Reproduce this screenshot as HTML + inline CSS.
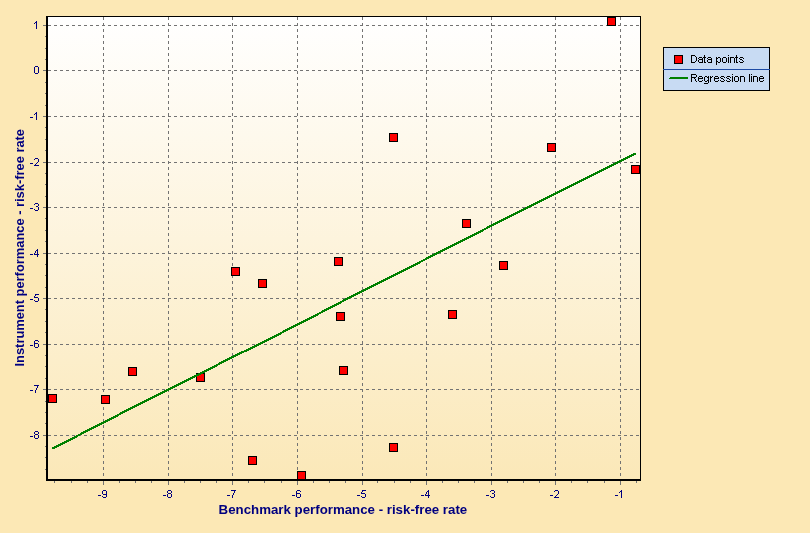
<!DOCTYPE html>
<html><head><meta charset="utf-8"><style>
html,body{margin:0;padding:0;width:810px;height:533px;overflow:hidden;background:#FCE8B5;}
svg{display:block}
.ov{position:absolute;left:0;top:0;will-change:transform}
text{font-family:"Liberation Sans",sans-serif;}
.tl{font-size:11px;fill:#000080;}
.at{font-size:13.5px;font-weight:bold;fill:#000080;}
.lg{font-size:10.7px;fill:#000;}
</style></head><body>
<svg width="810" height="533" viewBox="0 0 810 533">
<defs><linearGradient id="pg" x1="0" y1="0" x2="0" y2="1"><stop offset="0" stop-color="#FFFFFF"/><stop offset="1" stop-color="#FBE8B8"/></linearGradient></defs>
<rect width="810" height="533" fill="#FCE8B5"/>
<rect x="46" y="16" width="594" height="464" fill="url(#pg)"/>
<line x1="103.5" y1="17" x2="103.5" y2="479" stroke="#737373" stroke-width="1" stroke-dasharray="3 3"/>
<line x1="168.5" y1="17" x2="168.5" y2="479" stroke="#737373" stroke-width="1" stroke-dasharray="3 3"/>
<line x1="232.5" y1="17" x2="232.5" y2="479" stroke="#737373" stroke-width="1" stroke-dasharray="3 3"/>
<line x1="297.5" y1="17" x2="297.5" y2="479" stroke="#737373" stroke-width="1" stroke-dasharray="3 3"/>
<line x1="362.5" y1="17" x2="362.5" y2="479" stroke="#737373" stroke-width="1" stroke-dasharray="3 3"/>
<line x1="426.5" y1="17" x2="426.5" y2="479" stroke="#737373" stroke-width="1" stroke-dasharray="3 3"/>
<line x1="491.5" y1="17" x2="491.5" y2="479" stroke="#737373" stroke-width="1" stroke-dasharray="3 3"/>
<line x1="555.5" y1="17" x2="555.5" y2="479" stroke="#737373" stroke-width="1" stroke-dasharray="3 3"/>
<line x1="620.5" y1="17" x2="620.5" y2="479" stroke="#737373" stroke-width="1" stroke-dasharray="3 3"/>
<line x1="48" y1="25.5" x2="640" y2="25.5" stroke="#737373" stroke-width="1" stroke-dasharray="3 3"/>
<line x1="48" y1="70.5" x2="640" y2="70.5" stroke="#737373" stroke-width="1" stroke-dasharray="3 3"/>
<line x1="48" y1="116.5" x2="640" y2="116.5" stroke="#737373" stroke-width="1" stroke-dasharray="3 3"/>
<line x1="48" y1="162.5" x2="640" y2="162.5" stroke="#737373" stroke-width="1" stroke-dasharray="3 3"/>
<line x1="48" y1="207.5" x2="640" y2="207.5" stroke="#737373" stroke-width="1" stroke-dasharray="3 3"/>
<line x1="48" y1="253.5" x2="640" y2="253.5" stroke="#737373" stroke-width="1" stroke-dasharray="3 3"/>
<line x1="48" y1="298.5" x2="640" y2="298.5" stroke="#737373" stroke-width="1" stroke-dasharray="3 3"/>
<line x1="48" y1="344.5" x2="640" y2="344.5" stroke="#737373" stroke-width="1" stroke-dasharray="3 3"/>
<line x1="48" y1="389.5" x2="640" y2="389.5" stroke="#737373" stroke-width="1" stroke-dasharray="3 3"/>
<line x1="48" y1="435.5" x2="640" y2="435.5" stroke="#737373" stroke-width="1" stroke-dasharray="3 3"/>
<rect x="48.5" y="394.5" width="8" height="8" fill="#FF0000" stroke="#000" stroke-width="1"/>
<rect x="101.5" y="395.5" width="8" height="8" fill="#FF0000" stroke="#000" stroke-width="1"/>
<rect x="128.5" y="367.5" width="8" height="8" fill="#FF0000" stroke="#000" stroke-width="1"/>
<rect x="196.5" y="373.5" width="8" height="8" fill="#FF0000" stroke="#000" stroke-width="1"/>
<rect x="231.5" y="267.5" width="8" height="8" fill="#FF0000" stroke="#000" stroke-width="1"/>
<rect x="248.5" y="456.5" width="8" height="8" fill="#FF0000" stroke="#000" stroke-width="1"/>
<rect x="258.5" y="279.5" width="8" height="8" fill="#FF0000" stroke="#000" stroke-width="1"/>
<rect x="297.5" y="471.5" width="8" height="8" fill="#FF0000" stroke="#000" stroke-width="1"/>
<rect x="334.5" y="257.5" width="8" height="8" fill="#FF0000" stroke="#000" stroke-width="1"/>
<rect x="336.5" y="312.5" width="8" height="8" fill="#FF0000" stroke="#000" stroke-width="1"/>
<rect x="339.5" y="366.5" width="8" height="8" fill="#FF0000" stroke="#000" stroke-width="1"/>
<rect x="389.5" y="133.5" width="8" height="8" fill="#FF0000" stroke="#000" stroke-width="1"/>
<rect x="389.5" y="443.5" width="8" height="8" fill="#FF0000" stroke="#000" stroke-width="1"/>
<rect x="448.5" y="310.5" width="8" height="8" fill="#FF0000" stroke="#000" stroke-width="1"/>
<rect x="462.5" y="219.5" width="8" height="8" fill="#FF0000" stroke="#000" stroke-width="1"/>
<rect x="499.5" y="261.5" width="8" height="8" fill="#FF0000" stroke="#000" stroke-width="1"/>
<rect x="547.5" y="143.5" width="8" height="8" fill="#FF0000" stroke="#000" stroke-width="1"/>
<rect x="607.5" y="17.5" width="8" height="8" fill="#FF0000" stroke="#000" stroke-width="1"/>
<rect x="631.5" y="165.5" width="8" height="8" fill="#FF0000" stroke="#000" stroke-width="1"/>
<path d="M52 447h2v2h-2zM54 446h1v3h-1zM55 446h1v2h-1zM56 445h1v3h-1zM57 445h1v2h-1zM58 444h1v3h-1zM59 444h1v2h-1zM60 443h1v3h-1zM61 443h1v2h-1zM62 442h1v3h-1zM63 442h1v2h-1zM64 441h1v3h-1zM65 441h1v2h-1zM66 440h1v3h-1zM67 440h1v2h-1zM68 439h1v3h-1zM69 439h1v2h-1zM70 438h1v3h-1zM71 438h1v2h-1zM72 437h1v3h-1zM73 437h1v2h-1zM74 436h1v3h-1zM75 436h1v2h-1zM76 435h1v3h-1zM77 435h1v2h-1zM78 434h2v2h-2zM80 433h1v2h-1zM81 432h1v3h-1zM82 432h1v2h-1zM83 431h1v3h-1zM84 431h1v2h-1zM85 430h1v3h-1zM86 430h1v2h-1zM87 429h1v3h-1zM88 429h1v2h-1zM89 428h1v3h-1zM90 428h1v2h-1zM91 427h1v3h-1zM92 427h1v2h-1zM93 426h1v3h-1zM94 426h1v2h-1zM95 425h1v3h-1zM96 425h1v2h-1zM97 424h1v3h-1zM98 424h1v2h-1zM99 423h1v3h-1zM100 423h1v2h-1zM101 422h1v3h-1zM102 422h1v2h-1zM103 421h1v3h-1zM104 421h1v2h-1zM105 420h1v3h-1zM106 420h1v2h-1zM107 419h1v3h-1zM108 419h1v2h-1zM109 418h1v3h-1zM110 418h1v2h-1zM111 417h1v3h-1zM112 417h1v2h-1zM113 416h1v3h-1zM114 416h1v2h-1zM115 415h1v3h-1zM116 415h1v2h-1zM117 414h1v3h-1zM118 414h1v2h-1zM119 413h1v2h-1zM120 412h1v3h-1zM121 412h1v2h-1zM122 411h1v3h-1zM123 411h1v2h-1zM124 410h1v3h-1zM125 410h1v2h-1zM126 409h1v3h-1zM127 409h1v2h-1zM128 408h1v3h-1zM129 408h1v2h-1zM130 407h1v3h-1zM131 407h1v2h-1zM132 406h1v3h-1zM133 406h1v2h-1zM134 405h1v3h-1zM135 405h1v2h-1zM136 404h1v3h-1zM137 404h1v2h-1zM138 403h1v3h-1zM139 403h1v2h-1zM140 402h1v3h-1zM141 402h1v2h-1zM142 401h1v3h-1zM143 401h1v2h-1zM144 400h1v3h-1zM145 400h1v2h-1zM146 399h1v3h-1zM147 399h1v2h-1zM148 398h1v3h-1zM149 398h1v2h-1zM150 397h1v3h-1zM151 397h1v2h-1zM152 396h1v3h-1zM153 396h1v2h-1zM154 395h1v3h-1zM155 395h1v2h-1zM156 394h1v3h-1zM157 394h1v2h-1zM158 393h1v3h-1zM159 393h1v2h-1zM160 392h1v3h-1zM161 392h1v2h-1zM162 391h1v3h-1zM163 391h1v2h-1zM164 390h1v3h-1zM165 390h1v2h-1zM166 389h1v3h-1zM167 389h1v2h-1zM168 388h1v3h-1zM169 388h1v2h-1zM170 387h1v3h-1zM171 387h1v2h-1zM172 386h1v3h-1zM173 386h1v2h-1zM174 385h1v3h-1zM175 385h1v2h-1zM176 384h1v3h-1zM177 384h1v2h-1zM178 383h1v3h-1zM179 383h1v2h-1zM180 382h1v3h-1zM181 382h1v2h-1zM182 381h1v3h-1zM183 381h1v2h-1zM184 380h1v3h-1zM185 380h1v2h-1zM186 379h1v3h-1zM187 379h1v2h-1zM188 378h1v3h-1zM189 378h1v2h-1zM190 377h1v3h-1zM191 377h1v2h-1zM192 376h1v3h-1zM193 376h1v2h-1zM194 375h1v3h-1zM195 375h1v2h-1zM196 374h1v3h-1zM197 374h1v2h-1zM198 373h1v3h-1zM199 373h1v2h-1zM200 372h1v3h-1zM201 372h1v2h-1zM202 371h1v3h-1zM203 371h1v2h-1zM204 370h1v3h-1zM205 370h1v2h-1zM206 369h1v3h-1zM207 369h1v2h-1zM208 368h1v3h-1zM209 368h1v2h-1zM210 367h1v3h-1zM211 367h1v2h-1zM212 366h1v3h-1zM213 366h1v2h-1zM214 365h1v3h-1zM215 365h1v2h-1zM216 364h1v3h-1zM217 364h1v2h-1zM218 363h1v2h-1zM219 362h1v3h-1zM220 362h1v2h-1zM221 361h1v3h-1zM222 361h1v2h-1zM223 360h1v3h-1zM224 360h1v2h-1zM225 359h1v3h-1zM226 359h1v2h-1zM227 358h1v3h-1zM228 358h1v2h-1zM229 357h1v3h-1zM230 357h1v2h-1zM231 356h1v3h-1zM232 356h1v2h-1zM233 355h1v3h-1zM234 355h1v2h-1zM235 354h1v3h-1zM236 354h1v2h-1zM237 353h1v3h-1zM238 353h1v2h-1zM239 352h1v3h-1zM240 352h1v2h-1zM241 351h1v3h-1zM242 351h2v2h-2zM244 350h2v2h-2zM246 349h1v3h-1zM247 349h1v2h-1zM248 348h1v3h-1zM249 348h1v2h-1zM250 347h1v3h-1zM251 347h1v2h-1zM252 346h1v3h-1zM253 346h1v2h-1zM254 345h1v3h-1zM255 345h1v2h-1zM256 344h1v3h-1zM257 344h1v2h-1zM258 343h1v3h-1zM259 343h1v2h-1zM260 342h1v3h-1zM261 342h1v2h-1zM262 341h1v3h-1zM263 341h1v2h-1zM264 340h1v3h-1zM265 340h1v2h-1zM266 339h1v3h-1zM267 339h1v2h-1zM268 338h1v3h-1zM269 338h1v2h-1zM270 337h1v3h-1zM271 337h1v2h-1zM272 336h1v3h-1zM273 336h1v2h-1zM274 335h1v3h-1zM275 335h1v2h-1zM276 334h1v3h-1zM277 334h1v2h-1zM278 333h1v3h-1zM279 333h1v2h-1zM280 332h1v3h-1zM281 332h1v2h-1zM282 331h1v2h-1zM283 330h1v3h-1zM284 330h1v2h-1zM285 329h1v3h-1zM286 329h1v2h-1zM287 328h1v3h-1zM288 328h1v2h-1zM289 327h1v3h-1zM290 327h1v2h-1zM291 326h1v3h-1zM292 326h1v2h-1zM293 325h1v3h-1zM294 325h1v2h-1zM295 324h1v3h-1zM296 324h1v2h-1zM297 323h1v3h-1zM298 323h1v2h-1zM299 322h1v3h-1zM300 322h1v2h-1zM301 321h1v3h-1zM302 321h1v2h-1zM303 320h1v3h-1zM304 320h1v2h-1zM305 319h1v3h-1zM306 319h1v2h-1zM307 318h1v3h-1zM308 318h1v2h-1zM309 317h1v3h-1zM310 317h1v2h-1zM311 316h1v3h-1zM312 316h1v2h-1zM313 315h1v3h-1zM314 315h1v2h-1zM315 314h1v3h-1zM316 314h1v2h-1zM317 313h1v3h-1zM318 313h1v2h-1zM319 312h2v2h-2zM321 311h1v2h-1zM322 310h1v3h-1zM323 310h1v2h-1zM324 309h1v3h-1zM325 309h1v2h-1zM326 308h1v3h-1zM327 308h1v2h-1zM328 307h1v3h-1zM329 307h1v2h-1zM330 306h1v3h-1zM331 306h1v2h-1zM332 305h1v3h-1zM333 305h1v2h-1zM334 304h1v3h-1zM335 304h1v2h-1zM336 303h1v3h-1zM337 303h1v2h-1zM338 302h1v3h-1zM339 302h1v2h-1zM340 301h1v3h-1zM341 301h1v2h-1zM342 300h1v2h-1zM343 299h1v3h-1zM344 299h1v2h-1zM345 298h1v3h-1zM346 298h1v2h-1zM347 297h1v3h-1zM348 297h1v2h-1zM349 296h1v3h-1zM350 296h1v2h-1zM351 295h1v3h-1zM352 295h1v2h-1zM353 294h1v3h-1zM354 294h1v2h-1zM355 293h1v3h-1zM356 293h1v2h-1zM357 292h1v3h-1zM358 292h1v2h-1zM359 291h1v3h-1zM360 291h1v2h-1zM361 290h1v3h-1zM362 290h1v2h-1zM363 289h1v3h-1zM364 289h1v2h-1zM365 288h1v3h-1zM366 288h1v2h-1zM367 287h1v3h-1zM368 287h1v2h-1zM369 286h1v3h-1zM370 286h1v2h-1zM371 285h1v3h-1zM372 285h1v2h-1zM373 284h1v3h-1zM374 284h1v2h-1zM375 283h1v3h-1zM376 283h1v2h-1zM377 282h1v3h-1zM378 282h1v2h-1zM379 281h1v3h-1zM380 281h1v2h-1zM381 280h1v3h-1zM382 280h1v2h-1zM383 279h1v3h-1zM384 279h1v2h-1zM385 278h1v3h-1zM386 278h1v2h-1zM387 277h1v3h-1zM388 277h1v2h-1zM389 276h1v3h-1zM390 276h1v2h-1zM391 275h1v3h-1zM392 275h1v2h-1zM393 274h1v3h-1zM394 274h1v2h-1zM395 273h1v3h-1zM396 273h1v2h-1zM397 272h1v3h-1zM398 272h1v2h-1zM399 271h1v3h-1zM400 271h1v2h-1zM401 270h1v3h-1zM402 270h1v2h-1zM403 269h1v3h-1zM404 269h1v2h-1zM405 268h1v3h-1zM406 268h1v2h-1zM407 267h1v3h-1zM408 267h1v2h-1zM409 266h1v3h-1zM410 266h1v2h-1zM411 265h1v3h-1zM412 265h1v2h-1zM413 264h1v3h-1zM414 264h1v2h-1zM415 263h1v3h-1zM416 263h1v2h-1zM417 262h1v3h-1zM418 262h1v2h-1zM419 261h1v3h-1zM420 261h1v2h-1zM421 260h2v2h-2zM423 259h2v2h-2zM425 258h1v2h-1zM426 257h1v3h-1zM427 257h1v2h-1zM428 256h1v3h-1zM429 256h1v2h-1zM430 255h1v3h-1zM431 255h1v2h-1zM432 254h1v3h-1zM433 254h1v2h-1zM434 253h1v3h-1zM435 253h1v2h-1zM436 252h1v3h-1zM437 252h1v2h-1zM438 251h1v3h-1zM439 251h1v2h-1zM440 250h1v3h-1zM441 250h1v2h-1zM442 249h1v3h-1zM443 249h1v2h-1zM444 248h1v3h-1zM445 248h1v2h-1zM446 247h1v3h-1zM447 247h1v2h-1zM448 246h1v3h-1zM449 246h1v2h-1zM450 245h1v3h-1zM451 245h1v2h-1zM452 244h1v3h-1zM453 244h1v2h-1zM454 243h1v3h-1zM455 243h1v2h-1zM456 242h1v3h-1zM457 242h1v2h-1zM458 241h1v3h-1zM459 241h1v2h-1zM460 240h1v3h-1zM461 240h1v2h-1zM462 239h1v3h-1zM463 239h1v2h-1zM464 238h1v3h-1zM465 238h1v2h-1zM466 237h1v3h-1zM467 237h1v2h-1zM468 236h1v3h-1zM469 236h1v2h-1zM470 235h1v3h-1zM471 235h1v2h-1zM472 234h1v3h-1zM473 234h1v2h-1zM474 233h1v3h-1zM475 233h1v2h-1zM476 232h1v3h-1zM477 232h1v2h-1zM478 231h1v3h-1zM479 231h1v2h-1zM480 230h1v3h-1zM481 230h1v2h-1zM482 229h1v3h-1zM483 229h1v2h-1zM484 228h2v2h-2zM486 227h1v2h-1zM487 226h1v3h-1zM488 226h1v2h-1zM489 225h1v3h-1zM490 225h1v2h-1zM491 224h1v3h-1zM492 224h1v2h-1zM493 223h1v3h-1zM494 223h1v2h-1zM495 222h1v3h-1zM496 222h1v2h-1zM497 221h1v3h-1zM498 221h1v2h-1zM499 220h1v3h-1zM500 220h1v2h-1zM501 219h1v3h-1zM502 219h1v2h-1zM503 218h1v3h-1zM504 218h1v2h-1zM505 217h1v3h-1zM506 217h1v2h-1zM507 216h1v3h-1zM508 216h1v2h-1zM509 215h1v3h-1zM510 215h1v2h-1zM511 214h1v3h-1zM512 214h1v2h-1zM513 213h1v3h-1zM514 213h1v2h-1zM515 212h1v3h-1zM516 212h1v2h-1zM517 211h1v3h-1zM518 211h1v2h-1zM519 210h1v3h-1zM520 210h1v2h-1zM521 209h1v3h-1zM522 209h1v2h-1zM523 208h1v3h-1zM524 208h1v2h-1zM525 207h1v3h-1zM526 207h1v2h-1zM527 206h1v3h-1zM528 206h1v2h-1zM529 205h1v3h-1zM530 205h1v2h-1zM531 204h1v3h-1zM532 204h1v2h-1zM533 203h1v3h-1zM534 203h1v2h-1zM535 202h1v3h-1zM536 202h1v2h-1zM537 201h1v3h-1zM538 201h1v2h-1zM539 200h1v3h-1zM540 200h1v2h-1zM541 199h1v3h-1zM542 199h1v2h-1zM543 198h1v3h-1zM544 198h1v2h-1zM545 197h1v3h-1zM546 197h1v2h-1zM547 196h1v3h-1zM548 196h1v2h-1zM549 195h1v3h-1zM550 195h1v2h-1zM551 194h1v3h-1zM552 194h1v2h-1zM553 193h1v3h-1zM554 193h1v2h-1zM555 192h1v3h-1zM556 192h1v2h-1zM557 191h1v3h-1zM558 191h1v2h-1zM559 190h1v3h-1zM560 190h1v2h-1zM561 189h1v3h-1zM562 189h1v2h-1zM563 188h1v3h-1zM564 188h1v2h-1zM565 187h1v3h-1zM566 187h1v2h-1zM567 186h1v3h-1zM568 186h1v2h-1zM569 185h1v3h-1zM570 185h1v2h-1zM571 184h1v3h-1zM572 184h1v2h-1zM573 183h1v3h-1zM574 183h1v2h-1zM575 182h1v3h-1zM576 182h1v2h-1zM577 181h1v3h-1zM578 181h1v2h-1zM579 180h1v3h-1zM580 180h1v2h-1zM581 179h1v3h-1zM582 179h1v2h-1zM583 178h1v3h-1zM584 178h1v2h-1zM585 177h1v3h-1zM586 177h1v2h-1zM587 176h1v3h-1zM588 176h1v2h-1zM589 175h1v3h-1zM590 175h1v2h-1zM591 174h1v3h-1zM592 174h1v2h-1zM593 173h1v3h-1zM594 173h1v2h-1zM595 172h1v3h-1zM596 172h1v2h-1zM597 171h1v3h-1zM598 171h1v2h-1zM599 170h1v3h-1zM600 170h1v2h-1zM601 169h1v3h-1zM602 169h1v2h-1zM603 168h1v3h-1zM604 168h1v2h-1zM605 167h1v3h-1zM606 167h1v2h-1zM607 166h1v3h-1zM608 166h1v2h-1zM609 165h1v3h-1zM610 165h1v2h-1zM611 164h1v3h-1zM612 164h1v2h-1zM613 163h1v3h-1zM614 163h1v2h-1zM615 162h1v3h-1zM616 162h1v2h-1zM617 161h1v3h-1zM618 161h1v2h-1zM619 160h1v3h-1zM620 160h1v2h-1zM621 159h1v3h-1zM622 159h1v2h-1zM623 158h1v3h-1zM624 158h1v2h-1zM625 157h1v3h-1zM626 157h1v2h-1zM627 156h1v3h-1zM628 156h1v2h-1zM629 155h1v3h-1zM630 155h1v2h-1zM631 154h1v3h-1zM632 154h1v2h-1zM633 153h1v3h-1zM634 153h2v2h-2z" fill="#008000" shape-rendering="crispEdges"/>
<rect x="46" y="16" width="595" height="1" fill="#000"/>
<rect x="640" y="16" width="1" height="465" fill="#000"/>
<rect x="46" y="16" width="2" height="465" fill="#000"/>
<rect x="46" y="479" width="595" height="2" fill="#000"/>
<rect x="43" y="25" width="3" height="1" fill="#737373"/>
<rect x="43" y="70" width="3" height="1" fill="#737373"/>
<rect x="43" y="116" width="3" height="1" fill="#737373"/>
<rect x="43" y="162" width="3" height="1" fill="#737373"/>
<rect x="43" y="207" width="3" height="1" fill="#737373"/>
<rect x="43" y="253" width="3" height="1" fill="#737373"/>
<rect x="43" y="298" width="3" height="1" fill="#737373"/>
<rect x="43" y="344" width="3" height="1" fill="#737373"/>
<rect x="43" y="389" width="3" height="1" fill="#737373"/>
<rect x="43" y="435" width="3" height="1" fill="#737373"/>
<rect x="45" y="469" width="1" height="1" fill="#737373"/>
<rect x="45" y="457" width="1" height="1" fill="#737373"/>
<rect x="45" y="446" width="1" height="1" fill="#737373"/>
<rect x="45" y="423" width="1" height="1" fill="#737373"/>
<rect x="45" y="412" width="1" height="1" fill="#737373"/>
<rect x="45" y="401" width="1" height="1" fill="#737373"/>
<rect x="45" y="378" width="1" height="1" fill="#737373"/>
<rect x="45" y="366" width="1" height="1" fill="#737373"/>
<rect x="45" y="355" width="1" height="1" fill="#737373"/>
<rect x="45" y="332" width="1" height="1" fill="#737373"/>
<rect x="45" y="321" width="1" height="1" fill="#737373"/>
<rect x="45" y="309" width="1" height="1" fill="#737373"/>
<rect x="45" y="287" width="1" height="1" fill="#737373"/>
<rect x="45" y="275" width="1" height="1" fill="#737373"/>
<rect x="45" y="264" width="1" height="1" fill="#737373"/>
<rect x="45" y="241" width="1" height="1" fill="#737373"/>
<rect x="45" y="230" width="1" height="1" fill="#737373"/>
<rect x="45" y="218" width="1" height="1" fill="#737373"/>
<rect x="45" y="196" width="1" height="1" fill="#737373"/>
<rect x="45" y="184" width="1" height="1" fill="#737373"/>
<rect x="45" y="173" width="1" height="1" fill="#737373"/>
<rect x="45" y="150" width="1" height="1" fill="#737373"/>
<rect x="45" y="139" width="1" height="1" fill="#737373"/>
<rect x="45" y="127" width="1" height="1" fill="#737373"/>
<rect x="45" y="105" width="1" height="1" fill="#737373"/>
<rect x="45" y="93" width="1" height="1" fill="#737373"/>
<rect x="45" y="82" width="1" height="1" fill="#737373"/>
<rect x="45" y="59" width="1" height="1" fill="#737373"/>
<rect x="45" y="48" width="1" height="1" fill="#737373"/>
<rect x="45" y="36" width="1" height="1" fill="#737373"/>
<rect x="103" y="481" width="1" height="4" fill="#737373"/>
<rect x="168" y="481" width="1" height="4" fill="#737373"/>
<rect x="232" y="481" width="1" height="4" fill="#737373"/>
<rect x="297" y="481" width="1" height="4" fill="#737373"/>
<rect x="362" y="481" width="1" height="4" fill="#737373"/>
<rect x="426" y="481" width="1" height="4" fill="#737373"/>
<rect x="491" y="481" width="1" height="4" fill="#737373"/>
<rect x="555" y="481" width="1" height="4" fill="#737373"/>
<rect x="620" y="481" width="1" height="4" fill="#737373"/>
<rect x="54" y="481" width="1" height="2" fill="#737373"/>
<rect x="71" y="481" width="1" height="2" fill="#737373"/>
<rect x="87" y="481" width="1" height="2" fill="#737373"/>
<rect x="119" y="481" width="1" height="2" fill="#737373"/>
<rect x="135" y="481" width="1" height="2" fill="#737373"/>
<rect x="151" y="481" width="1" height="2" fill="#737373"/>
<rect x="184" y="481" width="1" height="2" fill="#737373"/>
<rect x="200" y="481" width="1" height="2" fill="#737373"/>
<rect x="216" y="481" width="1" height="2" fill="#737373"/>
<rect x="248" y="481" width="1" height="2" fill="#737373"/>
<rect x="264" y="481" width="1" height="2" fill="#737373"/>
<rect x="281" y="481" width="1" height="2" fill="#737373"/>
<rect x="313" y="481" width="1" height="2" fill="#737373"/>
<rect x="329" y="481" width="1" height="2" fill="#737373"/>
<rect x="345" y="481" width="1" height="2" fill="#737373"/>
<rect x="377" y="481" width="1" height="2" fill="#737373"/>
<rect x="394" y="481" width="1" height="2" fill="#737373"/>
<rect x="410" y="481" width="1" height="2" fill="#737373"/>
<rect x="442" y="481" width="1" height="2" fill="#737373"/>
<rect x="458" y="481" width="1" height="2" fill="#737373"/>
<rect x="474" y="481" width="1" height="2" fill="#737373"/>
<rect x="507" y="481" width="1" height="2" fill="#737373"/>
<rect x="523" y="481" width="1" height="2" fill="#737373"/>
<rect x="539" y="481" width="1" height="2" fill="#737373"/>
<rect x="571" y="481" width="1" height="2" fill="#737373"/>
<rect x="587" y="481" width="1" height="2" fill="#737373"/>
<rect x="604" y="481" width="1" height="2" fill="#737373"/>
<rect x="636" y="481" width="1" height="2" fill="#737373"/>
<path d="M36 21h1v1h-1zM35 22h2v1h-2zM34 23h1v1h-1zM36 23h1v1h-1zM36 24h1v1h-1zM36 25h1v1h-1zM36 26h1v1h-1zM36 27h1v1h-1zM36 28h1v1h-1zM35 66h3v1h-3zM34 67h1v1h-1zM38 67h1v1h-1zM34 68h1v1h-1zM38 68h1v1h-1zM34 69h1v1h-1zM38 69h1v1h-1zM34 70h1v1h-1zM38 70h1v1h-1zM34 71h1v1h-1zM38 71h1v1h-1zM34 72h1v1h-1zM38 72h1v1h-1zM35 73h3v1h-3zM36 112h1v1h-1zM35 113h2v1h-2zM34 114h1v1h-1zM36 114h1v1h-1zM36 115h1v1h-1zM36 116h1v1h-1zM36 117h1v1h-1zM36 118h1v1h-1zM36 119h1v1h-1zM30 117h3v1h-3zM35 158h3v1h-3zM34 159h1v1h-1zM38 159h1v1h-1zM38 160h1v1h-1zM38 161h1v1h-1zM37 162h1v1h-1zM36 163h1v1h-1zM35 164h1v1h-1zM34 165h5v1h-5zM30 163h3v1h-3zM35 203h3v1h-3zM34 204h1v1h-1zM38 204h1v1h-1zM38 205h1v1h-1zM36 206h2v1h-2zM38 207h1v1h-1zM38 208h1v1h-1zM34 209h1v1h-1zM38 209h1v1h-1zM35 210h3v1h-3zM30 208h3v1h-3zM37 249h1v1h-1zM36 250h2v1h-2zM35 251h1v1h-1zM37 251h1v1h-1zM35 252h1v1h-1zM37 252h1v1h-1zM34 253h1v1h-1zM37 253h1v1h-1zM34 254h5v1h-5zM37 255h1v1h-1zM37 256h1v1h-1zM30 254h3v1h-3zM35 294h4v1h-4zM35 295h1v1h-1zM34 296h1v1h-1zM34 297h4v1h-4zM38 298h1v1h-1zM38 299h1v1h-1zM34 300h1v1h-1zM38 300h1v1h-1zM35 301h3v1h-3zM30 299h3v1h-3zM35 340h3v1h-3zM34 341h1v1h-1zM38 341h1v1h-1zM34 342h1v1h-1zM34 343h4v1h-4zM34 344h1v1h-1zM38 344h1v1h-1zM34 345h1v1h-1zM38 345h1v1h-1zM34 346h1v1h-1zM38 346h1v1h-1zM35 347h3v1h-3zM30 345h3v1h-3zM34 385h5v1h-5zM37 386h1v1h-1zM37 387h1v1h-1zM36 388h1v1h-1zM36 389h1v1h-1zM35 390h1v1h-1zM35 391h1v1h-1zM35 392h1v1h-1zM30 390h3v1h-3zM35 431h3v1h-3zM34 432h1v1h-1zM38 432h1v1h-1zM34 433h1v1h-1zM38 433h1v1h-1zM35 434h3v1h-3zM34 435h1v1h-1zM38 435h1v1h-1zM34 436h1v1h-1zM38 436h1v1h-1zM34 437h1v1h-1zM38 437h1v1h-1zM35 438h3v1h-3zM30 436h3v1h-3zM103 490h3v1h-3zM102 491h1v1h-1zM106 491h1v1h-1zM102 492h1v1h-1zM106 492h1v1h-1zM102 493h1v1h-1zM106 493h1v1h-1zM103 494h4v1h-4zM106 495h1v1h-1zM102 496h1v1h-1zM106 496h1v1h-1zM103 497h3v1h-3zM98 495h3v1h-3zM168 490h3v1h-3zM167 491h1v1h-1zM171 491h1v1h-1zM167 492h1v1h-1zM171 492h1v1h-1zM168 493h3v1h-3zM167 494h1v1h-1zM171 494h1v1h-1zM167 495h1v1h-1zM171 495h1v1h-1zM167 496h1v1h-1zM171 496h1v1h-1zM168 497h3v1h-3zM163 495h3v1h-3zM231 490h5v1h-5zM234 491h1v1h-1zM234 492h1v1h-1zM233 493h1v1h-1zM233 494h1v1h-1zM232 495h1v1h-1zM232 496h1v1h-1zM232 497h1v1h-1zM227 495h3v1h-3zM297 490h3v1h-3zM296 491h1v1h-1zM300 491h1v1h-1zM296 492h1v1h-1zM296 493h4v1h-4zM296 494h1v1h-1zM300 494h1v1h-1zM296 495h1v1h-1zM300 495h1v1h-1zM296 496h1v1h-1zM300 496h1v1h-1zM297 497h3v1h-3zM292 495h3v1h-3zM362 490h4v1h-4zM362 491h1v1h-1zM361 492h1v1h-1zM361 493h4v1h-4zM365 494h1v1h-1zM365 495h1v1h-1zM361 496h1v1h-1zM365 496h1v1h-1zM362 497h3v1h-3zM357 495h3v1h-3zM428 490h1v1h-1zM427 491h2v1h-2zM426 492h1v1h-1zM428 492h1v1h-1zM426 493h1v1h-1zM428 493h1v1h-1zM425 494h1v1h-1zM428 494h1v1h-1zM425 495h5v1h-5zM428 496h1v1h-1zM428 497h1v1h-1zM421 495h3v1h-3zM491 490h3v1h-3zM490 491h1v1h-1zM494 491h1v1h-1zM494 492h1v1h-1zM492 493h2v1h-2zM494 494h1v1h-1zM494 495h1v1h-1zM490 496h1v1h-1zM494 496h1v1h-1zM491 497h3v1h-3zM486 495h3v1h-3zM555 490h3v1h-3zM554 491h1v1h-1zM558 491h1v1h-1zM558 492h1v1h-1zM558 493h1v1h-1zM557 494h1v1h-1zM556 495h1v1h-1zM555 496h1v1h-1zM554 497h5v1h-5zM550 495h3v1h-3zM621 490h1v1h-1zM620 491h2v1h-2zM619 492h1v1h-1zM621 492h1v1h-1zM621 493h1v1h-1zM621 494h1v1h-1zM621 495h1v1h-1zM621 496h1v1h-1zM621 497h1v1h-1zM615 495h3v1h-3z" fill="#000080" shape-rendering="crispEdges"/>
<rect x="663.5" y="47.5" width="106" height="43" fill="#C8DBF3" stroke="#000" stroke-width="1"/>
<rect x="663" y="69" width="107" height="1" fill="#1C4AA4"/>
<rect x="674.5" y="55.5" width="8" height="8" fill="#FF0000" stroke="#000" stroke-width="1"/>
<path d="M670 77h18v1h-18zM669 78h19v1h-19z" fill="#008000" shape-rendering="crispEdges"/>
<path d="M691 55h4v1h-4zM691 56h1v1h-1zM695 56h1v1h-1zM691 57h1v1h-1zM696 57h1v1h-1zM691 58h1v1h-1zM696 58h1v1h-1zM691 59h1v1h-1zM696 59h1v1h-1zM691 60h1v1h-1zM696 60h1v1h-1zM691 61h1v1h-1zM695 61h1v1h-1zM691 62h4v1h-4zM699 57h3v1h-3zM698 58h1v1h-1zM702 58h1v1h-1zM699 59h4v1h-4zM698 60h1v1h-1zM702 60h1v1h-1zM698 61h1v1h-1zM702 61h1v1h-1zM699 62h4v1h-4zM704 55h1v1h-1zM704 56h1v1h-1zM703 57h3v1h-3zM704 58h1v1h-1zM704 59h1v1h-1zM704 60h1v1h-1zM704 61h1v1h-1zM704 62h2v1h-2zM708 57h3v1h-3zM707 58h1v1h-1zM711 58h1v1h-1zM708 59h4v1h-4zM707 60h1v1h-1zM711 60h1v1h-1zM707 61h1v1h-1zM711 61h1v1h-1zM708 62h4v1h-4zM716 57h1v1h-1zM718 57h2v1h-2zM716 58h2v1h-2zM720 58h1v1h-1zM716 59h1v1h-1zM720 59h1v1h-1zM716 60h1v1h-1zM720 60h1v1h-1zM716 61h2v1h-2zM720 61h1v1h-1zM716 62h1v1h-1zM718 62h2v1h-2zM716 63h1v1h-1zM716 64h1v1h-1zM723 57h3v1h-3zM722 58h1v1h-1zM726 58h1v1h-1zM722 59h1v1h-1zM726 59h1v1h-1zM722 60h1v1h-1zM726 60h1v1h-1zM722 61h1v1h-1zM726 61h1v1h-1zM723 62h3v1h-3zM728 55h1v1h-1zM728 57h1v1h-1zM728 58h1v1h-1zM728 59h1v1h-1zM728 60h1v1h-1zM728 61h1v1h-1zM728 62h1v1h-1zM730 57h4v1h-4zM730 58h1v1h-1zM734 58h1v1h-1zM730 59h1v1h-1zM734 59h1v1h-1zM730 60h1v1h-1zM734 60h1v1h-1zM730 61h1v1h-1zM734 61h1v1h-1zM730 62h1v1h-1zM734 62h1v1h-1zM736 55h1v1h-1zM736 56h1v1h-1zM735 57h3v1h-3zM736 58h1v1h-1zM736 59h1v1h-1zM736 60h1v1h-1zM736 61h1v1h-1zM736 62h2v1h-2zM740 57h3v1h-3zM739 58h1v1h-1zM743 58h1v1h-1zM740 59h2v1h-2zM742 60h1v1h-1zM739 61h1v1h-1zM743 61h1v1h-1zM740 62h3v1h-3zM691 74h5v1h-5zM691 75h1v1h-1zM696 75h1v1h-1zM691 76h1v1h-1zM696 76h1v1h-1zM691 77h5v1h-5zM691 78h1v1h-1zM694 78h1v1h-1zM691 79h1v1h-1zM695 79h1v1h-1zM691 80h1v1h-1zM695 80h1v1h-1zM691 81h1v1h-1zM696 81h1v1h-1zM699 76h3v1h-3zM698 77h1v1h-1zM702 77h1v1h-1zM698 78h5v1h-5zM698 79h1v1h-1zM698 80h1v1h-1zM702 80h1v1h-1zM699 81h3v1h-3zM705 76h2v1h-2zM708 76h1v1h-1zM704 77h1v1h-1zM707 77h2v1h-2zM704 78h1v1h-1zM708 78h1v1h-1zM704 79h1v1h-1zM708 79h1v1h-1zM704 80h1v1h-1zM707 80h2v1h-2zM705 81h2v1h-2zM708 81h1v1h-1zM708 82h1v1h-1zM704 83h4v1h-4zM710 76h1v1h-1zM712 76h1v1h-1zM710 77h2v1h-2zM710 78h1v1h-1zM710 79h1v1h-1zM710 80h1v1h-1zM710 81h1v1h-1zM715 76h3v1h-3zM714 77h1v1h-1zM718 77h1v1h-1zM714 78h5v1h-5zM714 79h1v1h-1zM714 80h1v1h-1zM718 80h1v1h-1zM715 81h3v1h-3zM721 76h3v1h-3zM720 77h1v1h-1zM724 77h1v1h-1zM721 78h2v1h-2zM723 79h1v1h-1zM720 80h1v1h-1zM724 80h1v1h-1zM721 81h3v1h-3zM727 76h3v1h-3zM726 77h1v1h-1zM730 77h1v1h-1zM727 78h2v1h-2zM729 79h1v1h-1zM726 80h1v1h-1zM730 80h1v1h-1zM727 81h3v1h-3zM732 74h1v1h-1zM732 76h1v1h-1zM732 77h1v1h-1zM732 78h1v1h-1zM732 79h1v1h-1zM732 80h1v1h-1zM732 81h1v1h-1zM735 76h3v1h-3zM734 77h1v1h-1zM738 77h1v1h-1zM734 78h1v1h-1zM738 78h1v1h-1zM734 79h1v1h-1zM738 79h1v1h-1zM734 80h1v1h-1zM738 80h1v1h-1zM735 81h3v1h-3zM740 76h4v1h-4zM740 77h1v1h-1zM744 77h1v1h-1zM740 78h1v1h-1zM744 78h1v1h-1zM740 79h1v1h-1zM744 79h1v1h-1zM740 80h1v1h-1zM744 80h1v1h-1zM740 81h1v1h-1zM744 81h1v1h-1zM749 74h1v1h-1zM749 75h1v1h-1zM749 76h1v1h-1zM749 77h1v1h-1zM749 78h1v1h-1zM749 79h1v1h-1zM749 80h1v1h-1zM749 81h1v1h-1zM751 74h1v1h-1zM751 76h1v1h-1zM751 77h1v1h-1zM751 78h1v1h-1zM751 79h1v1h-1zM751 80h1v1h-1zM751 81h1v1h-1zM753 76h4v1h-4zM753 77h1v1h-1zM757 77h1v1h-1zM753 78h1v1h-1zM757 78h1v1h-1zM753 79h1v1h-1zM757 79h1v1h-1zM753 80h1v1h-1zM757 80h1v1h-1zM753 81h1v1h-1zM757 81h1v1h-1zM760 76h3v1h-3zM759 77h1v1h-1zM763 77h1v1h-1zM759 78h5v1h-5zM759 79h1v1h-1zM759 80h1v1h-1zM763 80h1v1h-1zM760 81h3v1h-3z" fill="#000" shape-rendering="crispEdges"/>
</svg>
<svg class="ov" width="810" height="533" viewBox="0 0 810 533">
<text x="218.6" y="514" textLength="248.6" lengthAdjust="spacingAndGlyphs" class="at">Benchmark performance - risk-free rate</text>
<text transform="translate(24,366.5) rotate(-90)" x="0" y="0" textLength="237.5" lengthAdjust="spacingAndGlyphs" class="at">Instrument performance - risk-free rate</text>
</svg>
</body></html>
